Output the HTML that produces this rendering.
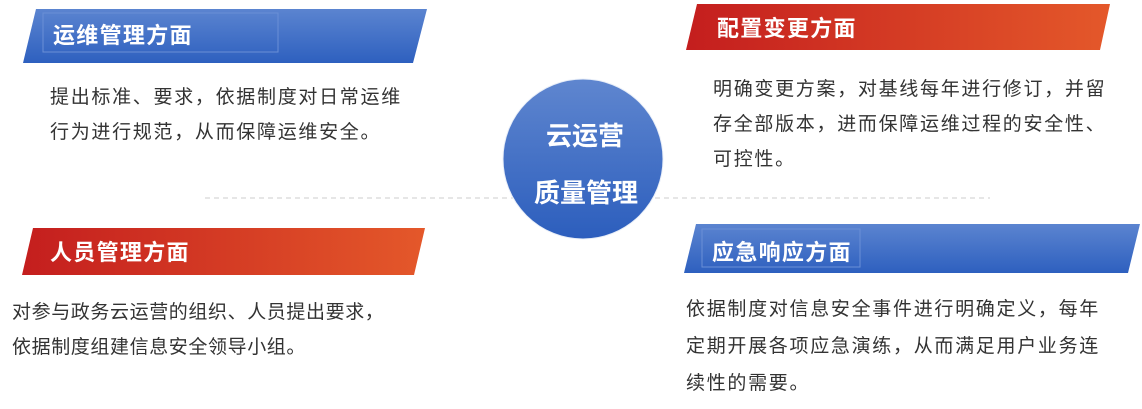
<!DOCTYPE html>
<html><head><meta charset="utf-8"><style>
body{margin:0;width:1142px;height:409px;background:#fff;position:relative;overflow:hidden;font-family:"Liberation Sans","Noto Sans CJK SC",sans-serif;}
.b{position:absolute;}
.t{position:absolute;font-size:19px;letter-spacing:1.7px;color:#333;line-height:35px;white-space:nowrap;}
.h{position:absolute;color:#fff;font-weight:bold;font-size:22px;letter-spacing:1.3px;white-space:nowrap;}
</style></head><body>
<svg class="b" style="left:0;top:0" width="1142" height="409">
<defs>
<linearGradient id="bl" x1="0" y1="0" x2="0" y2="1"><stop offset="0" stop-color="#5b84d0"/><stop offset="1" stop-color="#2e60bf"/></linearGradient>
<linearGradient id="rd" x1="0" y1="0" x2="1" y2="0"><stop offset="0" stop-color="#c41e1e"/><stop offset="1" stop-color="#e4582a"/></linearGradient>
<linearGradient id="ci" x1="0" y1="0" x2="0" y2="1"><stop offset="0" stop-color="#5f86cf"/><stop offset="1" stop-color="#2c5ebd"/></linearGradient>
</defs>
<polygon points="36,9 427,9 413,63 23,63" fill="url(#bl)"/>
<rect x="43" y="13" width="235" height="39" fill="none" stroke="#6a8fd6" stroke-width="1"/>
<polygon points="697,4 1110,4 1100,50 686,50" fill="url(#rd)"/>
<polygon points="33,228 425,228 414,275 22,275" fill="url(#rd)"/>
<polygon points="696,224 1140,224 1128,273 684,273" fill="url(#bl)"/>
<rect x="702" y="229" width="158" height="38" fill="none" stroke="#6a8fd6" stroke-width="1"/>
<line x1="205" y1="198" x2="990" y2="198" stroke="#ccc" stroke-dasharray="5,4"/>
<circle cx="583" cy="159" r="80" fill="url(#ci)" stroke="#e8eef8" stroke-width="1"/>
</svg>
<div class="h" style="left:53px;top:18px">运维管理方面</div>
<div class="h" style="left:717px;top:11px">配置变更方面</div>
<div class="h" style="left:50px;top:235px">人员管理方面</div>
<div class="h" style="left:712px;top:235px">应急响应方面</div>
<div class="h" style="left:546px;top:116px;font-size:26px;letter-spacing:0">云运营</div>
<div class="h" style="left:534px;top:173px;font-size:26px;letter-spacing:0">质量管理</div>
<div class="t" style="left:50px;top:80px">提出标准、要求，依据制度对日常运维<br>行为进行规范，从而保障运维安全。</div>
<div class="t" style="left:713px;top:72px">明确变更方案，对基线每年进行修订，并留<br>存全部版本，进而保障运维过程的安全性、<br>可控性。</div>
<div class="t" style="left:12px;top:295px;letter-spacing:0.6px">对参与政务云运营的组织、人员提出要求，<br>依据制度组建信息安全领导小组。</div>
<div class="t" style="left:686px;top:291px;line-height:37px">依据制度对信息安全事件进行明确定义，每年<br>定期开展各项应急演练，从而满足用户业务连<br>续性的需要。</div>
</body></html>
